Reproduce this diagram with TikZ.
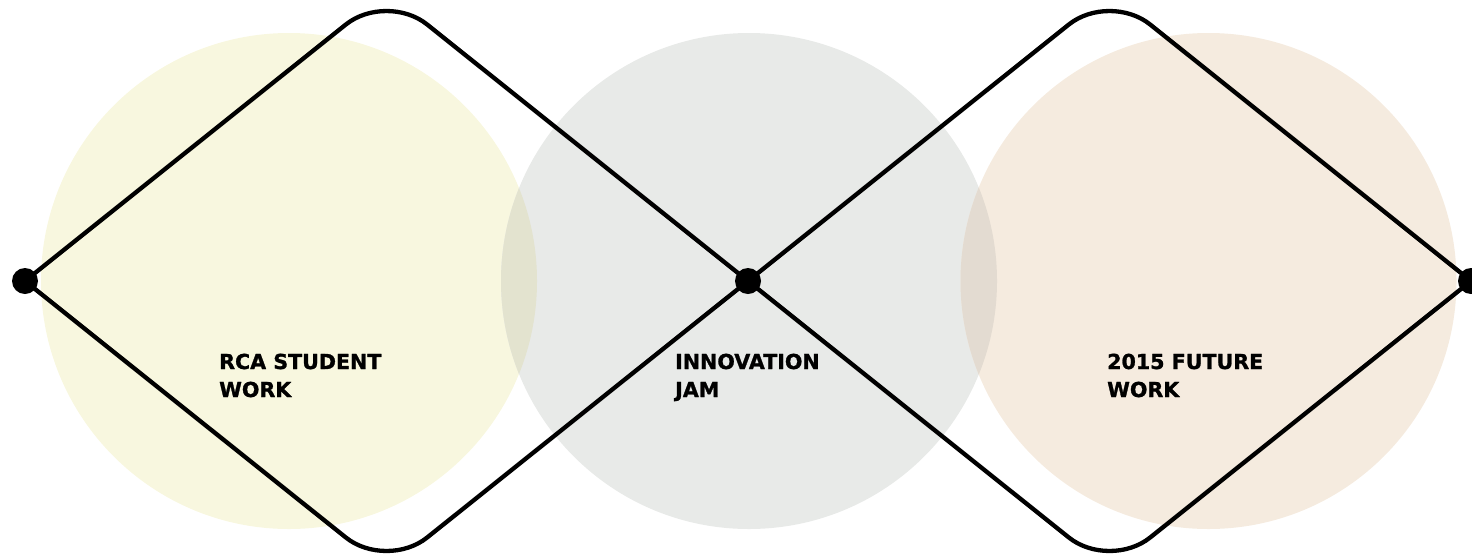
\documentclass[tikz,border=0pt]{standalone}
\usepackage{fontspec}
\newfontfamily\labelfont[FakeBold=1.2]{DejaVu Sans Bold}
\definecolor{circA}{RGB}{248,247,223}
\definecolor{circB}{RGB}{232,234,232}
\definecolor{circC}{RGB}{245,235,223}
\definecolor{lensAB}{RGB}{227,227,207}
\definecolor{lensBC}{RGB}{227,219,209}
\tikzset{
  wave/.style={line width=4.3pt, rounded corners=52pt, line join=round},
  dot/.style={circle, fill=black, inner sep=0pt, minimum size=26pt},
  caption/.style={anchor=base west, inner sep=0pt, align=left,
    font=\labelfont\fontsize{20.6}{28}\selectfont}
}
\begin{document}
\begin{tikzpicture}[x=1pt,y=-1pt]
\useasboundingbox (0,0) rectangle (1472,555);
% background discs
\fill[circA] (289,281) circle (248);
\fill[circB] (749,281) circle (248);
\fill[circC] (1208.5,281) circle (248);
\begin{scope}
  \clip (289,281) circle (248);
  \fill[lensAB] (749,281) circle (248);
\end{scope}
\begin{scope}
  \clip (749,281) circle (248);
  \fill[lensBC] (1208.5,281) circle (248);
\end{scope}
% hubs and apexes
\node[dot] (p1) at (25,281) {};
\node[dot] (p2) at (748,281) {};
\node[dot] (p3) at (1471,281) {};
\coordinate (t1) at (386.5,-8);
\coordinate (b1) at (386.5,570);
\coordinate (t2) at (1109.5,-8);
\coordinate (b2) at (1109.5,570);
% the two rounded diamonds
\draw[wave] (p1.center) -- (t1) -- (p2.center);
\draw[wave] (p1.center) -- (b1) -- (p2.center);
\draw[wave] (p2.center) -- (t2) -- (p3.center);
\draw[wave] (p2.center) -- (b2) -- (p3.center);
% labels (anchor sits on the baseline of the last line)
\node[caption] (l1) at (219,397) {RCA STUDENT\\WORK};
\node[caption] (l2) at (675,397) {INNOVATION\\JAM};
\node[caption] (l3) at (1107,397) {2015 FUTURE\\WORK};
\end{tikzpicture}
\end{document}
